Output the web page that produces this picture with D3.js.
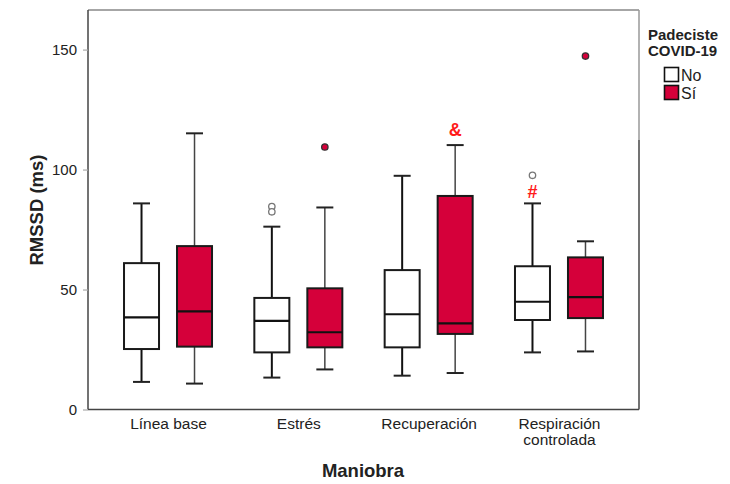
<!DOCTYPE html>
<html>
<head>
<meta charset="utf-8">
<script src="https://cdn.jsdelivr.net/npm/d3@7"></script>
<style>
  html, body { margin: 0; padding: 0; background: #fff; }
  svg { display: block; font-family: "Liberation Sans", Arial, sans-serif; }
</style>
</head>
<body>
<svg id="chart" width="730" height="484"></svg>
<script>
// ---- data ----
const categories = ["Línea base", "Estrés", "Recuperación", "Respiración\ncontrolada"];
const groups = ["No", "Sí"];
// [lower whisker, Q1, median, Q3, upper whisker]
const noStats = [[11.5, 25.2, 38.4, 61.0, 85.9], [13.3, 23.8, 36.9, 46.5, 76.2], [14.1, 25.9, 39.7, 58.1, 97.4], [23.8, 37.3, 44.9, 59.7, 85.9]];
const siStats = [[10.8, 26.2, 40.9, 68.1, 115.1], [16.7, 25.9, 32.2, 50.5, 84.2], [15.2, 31.5, 35.9, 89.0, 110.2], [24.2, 38.1, 46.8, 63.4, 70.1]];
const noOutliers = [[], [84.6, 82.4], [], [97.6]];
const siOutliers = [[], [109.4], [], [147.3]];
const annotations = [
  { cat: 2, group: "Sí", symbol: "&", value: 116.5 },
  { cat: 3, group: "No", symbol: "#", value: 90.6 }
];
const yTicks = [0, 50, 100, 150];

// ---- layout ----
(function () {
const svg = d3.select("#chart");
const pL = 88, pR = 639, pT = 10, pB = 409.5;
const red = "#d5003a";

const y = d3.scaleLinear().domain([0, 166.5]).range([pB, pT]);
const x = d3.scalePoint().domain(categories).range([pL, pR]).padding(0.614);
const xg = d3.scalePoint().domain(groups).range([-26.5, 26.5]);
const boxW = 35, capW = 17;

// frame
svg.append("line").attr("x1", pL).attr("x2", pR).attr("y1", pT).attr("y2", pT)
  .attr("stroke", "#888").attr("stroke-width", 1.5);
svg.append("line").attr("x1", pR).attr("x2", pR).attr("y1", pT).attr("y2", 140)
  .attr("stroke", "#999").attr("stroke-width", 1.5);
svg.append("line").attr("x1", pR).attr("x2", pR).attr("y1", 140).attr("y2", pB)
  .attr("stroke", "#444").attr("stroke-width", 1.5);

// y axis
const yAxis = svg.append("g").attr("transform", `translate(${pL},0)`)
  .call(d3.axisLeft(y).tickValues(yTicks).tickSize(5).tickPadding(6));
yAxis.select(".domain").attr("stroke", "#444").attr("stroke-width", 1.5)
  .attr("d", `M0,${pT}V${pB}`);
yAxis.selectAll(".tick line").attr("stroke", "#aaa").attr("stroke-width", 1.2);
yAxis.selectAll(".tick text").attr("fill", "#222").style("font-size", "15px")
  .style("font-family", "Liberation Sans, Arial, sans-serif");

// x axis
const xAxis = svg.append("g").attr("transform", `translate(0,${pB})`)
  .call(d3.axisBottom(x).tickSize(0).tickPadding(0));
xAxis.select(".domain").attr("stroke", "#444").attr("stroke-width", 1.5)
  .attr("d", `M${pL},0H${pR}`);
xAxis.selectAll(".tick text").each(function(d) {
  const t = d3.select(this);
  t.text(null).attr("y", 0).attr("dy", null)
    .attr("fill", "#222").style("font-size", "15.5px")
    .style("font-family", "Liberation Sans, Arial, sans-serif");
  d.split("\n").forEach((line, i) => {
    t.append("tspan").attr("x", 0).attr("y", 19.5 + i * 15.5).text(line);
  });
});

// boxes
const series = [
  { key: "No", stats: noStats, outliers: noOutliers, fill: "#fff", whisker: "#111", ww: 2 },
  { key: "Sí", stats: siStats, outliers: siOutliers, fill: red, whisker: "#444", ww: 1.5 }
];
series.forEach(s => {
  s.stats.forEach((st, i) => {
    const cx = x(categories[i]) + xg(s.key);
    const [lo, q1, med, q3, hi] = st;
    const g = svg.append("g");
    g.append("line").attr("x1", cx).attr("x2", cx).attr("y1", y(hi)).attr("y2", y(q3))
      .attr("stroke", s.whisker).attr("stroke-width", s.ww);
    g.append("line").attr("x1", cx).attr("x2", cx).attr("y1", y(q1)).attr("y2", y(lo))
      .attr("stroke", s.whisker).attr("stroke-width", s.ww);
    [hi, lo].forEach(v => {
      g.append("line").attr("x1", cx - capW / 2).attr("x2", cx + capW / 2)
        .attr("y1", y(v)).attr("y2", y(v))
        .attr("stroke", "#222").attr("stroke-width", 2);
    });
    g.append("rect").attr("x", cx - boxW / 2).attr("width", boxW)
      .attr("y", y(q3)).attr("height", y(q1) - y(q3))
      .attr("fill", s.fill).attr("stroke", "#1a1a1a").attr("stroke-width", 2);
    g.append("line").attr("x1", cx - boxW / 2).attr("x2", cx + boxW / 2)
      .attr("y1", y(med)).attr("y2", y(med))
      .attr("stroke", "#111").attr("stroke-width", 2.2);
    s.outliers[i].forEach(v => {
      g.append("circle").attr("cx", cx).attr("cy", y(v)).attr("r", 3.2)
        .attr("fill", s.key === "No" ? "#fff" : red)
        .attr("stroke", s.key === "No" ? "#777" : "#333").attr("stroke-width", 1.3);
    });
  });
});

// annotations
annotations.forEach(a => {
  svg.append("text")
    .attr("x", x(categories[a.cat]) + xg(a.group))
    .attr("y", y(a.value)).attr("dy", "0.35em")
    .attr("text-anchor", "middle").attr("fill", "#ff1a1a")
    .style("font-size", "18px").style("font-weight", "bold")
    .text(a.symbol);
});

// axis titles
svg.append("text").attr("transform", `translate(37,210) rotate(-90)`)
  .attr("text-anchor", "middle").attr("dy", "0.35em")
  .style("font-size", "18.5px").style("font-weight", "bold").attr("fill", "#222")
  .text("RMSSD (ms)");
svg.append("text").attr("x", 363).attr("y", 477)
  .attr("text-anchor", "middle")
  .style("font-size", "18.5px").style("font-weight", "bold").attr("fill", "#222")
  .text("Maniobra");

// legend
const lg = svg.append("g");
lg.append("text").attr("x", 648).attr("y", 40).style("font-size", "15px").style("font-weight", "bold")
  .attr("fill", "#222").text("Padeciste");
lg.append("text").attr("x", 648).attr("y", 56).style("font-size", "15px").style("font-weight", "bold")
  .attr("fill", "#222").text("COVID-19");
const legendFills = { "No": "#fff", "Sí": red };
groups.forEach((gname, i) => {
  const yy = 67.5 + i * 18;
  lg.append("rect").attr("x", 664.5).attr("y", yy).attr("width", 14).attr("height", 14)
    .attr("fill", legendFills[gname]).attr("stroke", "#111").attr("stroke-width", 1.6);
  lg.append("text").attr("x", 681).attr("y", yy + 13.5).style("font-size", "16px")
    .attr("fill", "#222").text(gname);
});
})();
</script>
</body>
</html>
